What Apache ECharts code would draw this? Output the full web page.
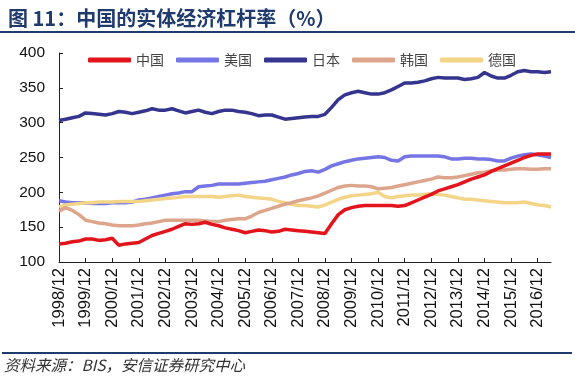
<!DOCTYPE html>
<html>
<head>
<meta charset="utf-8">
<script src="https://cdn.jsdelivr.net/npm/echarts@6/dist/echarts.min.js"></script>
<style>
  html, body { margin: 0; padding: 0; background: #fff; }
  #main { width: 575px; height: 376px; }
</style>
</head>
<body>
<div id="main"></div>
<script>
// 季度数据，1998/12 - 2017/06
var dates = [
    '1998/12',
    '1999/03', '1999/06', '1999/09', '1999/12',
    '2000/03', '2000/06', '2000/09', '2000/12',
    '2001/03', '2001/06', '2001/09', '2001/12',
    '2002/03', '2002/06', '2002/09', '2002/12',
    '2003/03', '2003/06', '2003/09', '2003/12',
    '2004/03', '2004/06', '2004/09', '2004/12',
    '2005/03', '2005/06', '2005/09', '2005/12',
    '2006/03', '2006/06', '2006/09', '2006/12',
    '2007/03', '2007/06', '2007/09', '2007/12',
    '2008/03', '2008/06', '2008/09', '2008/12',
    '2009/03', '2009/06', '2009/09', '2009/12',
    '2010/03', '2010/06', '2010/09', '2010/12',
    '2011/03', '2011/06', '2011/09', '2011/12',
    '2012/03', '2012/06', '2012/09', '2012/12',
    '2013/03', '2013/06', '2013/09', '2013/12',
    '2014/03', '2014/06', '2014/09', '2014/12',
    '2015/03', '2015/06', '2015/09', '2015/12',
    '2016/03', '2016/06', '2016/09', '2016/12',
    '2017/03', '2017/06'
];

var china = [126, 127, 129, 130, 133, 133, 131, 132, 134, 124, 126, 127, 128, 133, 138, 141, 144, 147, 151, 155,
    154, 155, 157, 154, 152, 149, 147, 145, 142, 144, 146, 145, 143, 144, 147, 146, 145, 144, 143, 142,
    141, 155, 168, 175, 178, 180, 181, 181, 181, 181, 181, 180, 181, 185, 189, 193, 197, 202, 205, 208,
    211, 215, 219, 222, 225, 230, 234, 238, 242, 246, 250, 253, 255, 255, 255];

var usa = [188, 186, 185, 185, 185, 184, 184, 184, 185, 185, 185, 186, 189, 190, 192, 194, 196, 198, 199, 201,
    201, 208, 209, 210, 212, 212, 212, 212, 213, 214, 215, 216, 218, 220, 222, 225, 227, 230, 231, 229,
    233, 238, 241, 244, 246, 248, 249, 250, 251, 250, 246, 245, 251, 252, 252, 252, 252, 252, 251, 248,
    248, 249, 249, 248, 248, 247, 245, 245, 249, 252, 254, 255, 254, 252, 250];

var japan = [303, 305, 307, 309, 314, 313, 312, 311, 313, 316, 315, 313, 315, 317, 320, 318, 318, 320, 317, 314,
    316, 318, 315, 313, 316, 318, 318, 316, 315, 313, 310, 311, 311, 308, 305, 306, 307, 308, 309, 309,
    312, 322, 333, 340, 343, 345, 343, 341, 341, 343, 347, 352, 357, 357, 358, 360, 363, 365, 364, 364,
    364, 362, 363, 365, 372, 367, 364, 364, 368, 373, 375, 373, 373, 372, 373];

var korea = [173, 178, 174, 168, 160, 158, 156, 155, 153, 152, 152, 152, 153, 155, 156, 158, 160, 160, 160, 160,
    160, 160, 159, 158, 158, 160, 161, 162, 162, 166, 171, 174, 177, 180, 183, 185, 188, 190, 192, 195,
    199, 203, 207, 209, 210, 209, 209, 208, 205, 206, 207, 209, 211, 213, 215, 217, 219, 222, 221, 221,
    222, 224, 226, 228, 229, 231, 232, 232, 233, 234, 234, 233, 233, 234, 234];

var germany = [179, 182, 183, 184, 185, 185, 186, 186, 186, 187, 187, 187, 187, 188, 189, 190, 191, 192, 193, 194,
    194, 194, 194, 194, 193, 194, 195, 196, 194, 193, 192, 191, 190, 187, 185, 183, 181, 181, 180, 179,
    182, 186, 190, 193, 195, 196, 197, 198, 200, 194, 192, 194, 195, 196, 196, 197, 198, 197, 196, 194,
    192, 190, 190, 189, 188, 187, 186, 185, 185, 185, 186, 184, 182, 181, 179];

var yTicks = [100, 150, 200, 250, 300, 350, 400];

var myChart = echarts.init(document.getElementById('main'));

function mkLine(name, data, color) {
    return {
        name: name,
        type: 'line',
        data: data,
        symbol: 'none',
        lineStyle: { width: 3.5, color: color },
        itemStyle: { color: color },
        emphasis: { disabled: true }
    };
}

var option = {
    animation: false,
    textStyle: { fontFamily: 'Liberation Sans, Arial, sans-serif' },
    title: {
        text: '图 11：中国的实体经济杠杆率（%）',
        left: 3,
        top: 3,
        textStyle: {
            fontFamily: 'Noto Sans CJK SC',
            fontSize: 20,
            fontWeight: 'bold',
            color: '#1f3a6d'
        }
    },
    legend: {
        data: ['中国', '美国', '日本', '韩国', '德国'],
        left: 83,
        top: 48,
        icon: 'roundRect',
        itemWidth: 43,
        itemHeight: 5,
        itemGap: 12,
        textStyle: {
            fontFamily: 'Noto Sans CJK SC',
            fontSize: 14,
            color: '#444'
        }
    },
    grid: { left: 59, right: 24, top: 53, bottom: 114 },
    xAxis: {
        type: 'category',
        boundaryGap: false,
        data: dates,
        axisLine: { lineStyle: { color: '#222', width: 1 } },
        axisTick: { inside: true, length: 4, interval: 3, lineStyle: { color: '#222' } },
        axisLabel: {
            interval: 3,
            rotate: 90,
            margin: 6,
            fontSize: 16.5,
            color: '#111'
        },
        splitLine: { show: false }
    },
    yAxis: {
        type: 'value',
        min: yTicks[0],
        max: yTicks[yTicks.length - 1],
        interval: 50,
        axisLine: { show: true, lineStyle: { color: '#222', width: 1 } },
        axisTick: { show: true, inside: true, length: 4, lineStyle: { color: '#222' } },
        axisLabel: { fontSize: 15.5, color: '#111', margin: 14 },
        splitLine: { show: false }
    },
    graphic: [
        {
            type: 'rect',
            shape: { x: 0, y: 31, width: 575, height: 2 },
            style: { fill: '#1f3a6d' }
        },
        {
            type: 'rect',
            shape: { x: 2, y: 352, width: 570, height: 2 },
            style: { fill: '#1f3a6d' }
        },
        {
            type: 'text',
            left: 4,
            top: 357,
            style: {
                text: '资料来源：BIS，安信证券研究中心',
                font: 'italic 15.5px "Noto Sans CJK SC"',
                fill: '#333'
            }
        }
    ],
    series: [
        mkLine('日本', japan, '#35358f'),
        mkLine('美国', usa, '#7575e6'),
        mkLine('德国', germany, '#f4d487'),
        mkLine('韩国', korea, '#dca58c'),
        mkLine('中国', china, '#e3141b')
    ]
};

myChart.setOption(option);
</script>
</body>
</html>
